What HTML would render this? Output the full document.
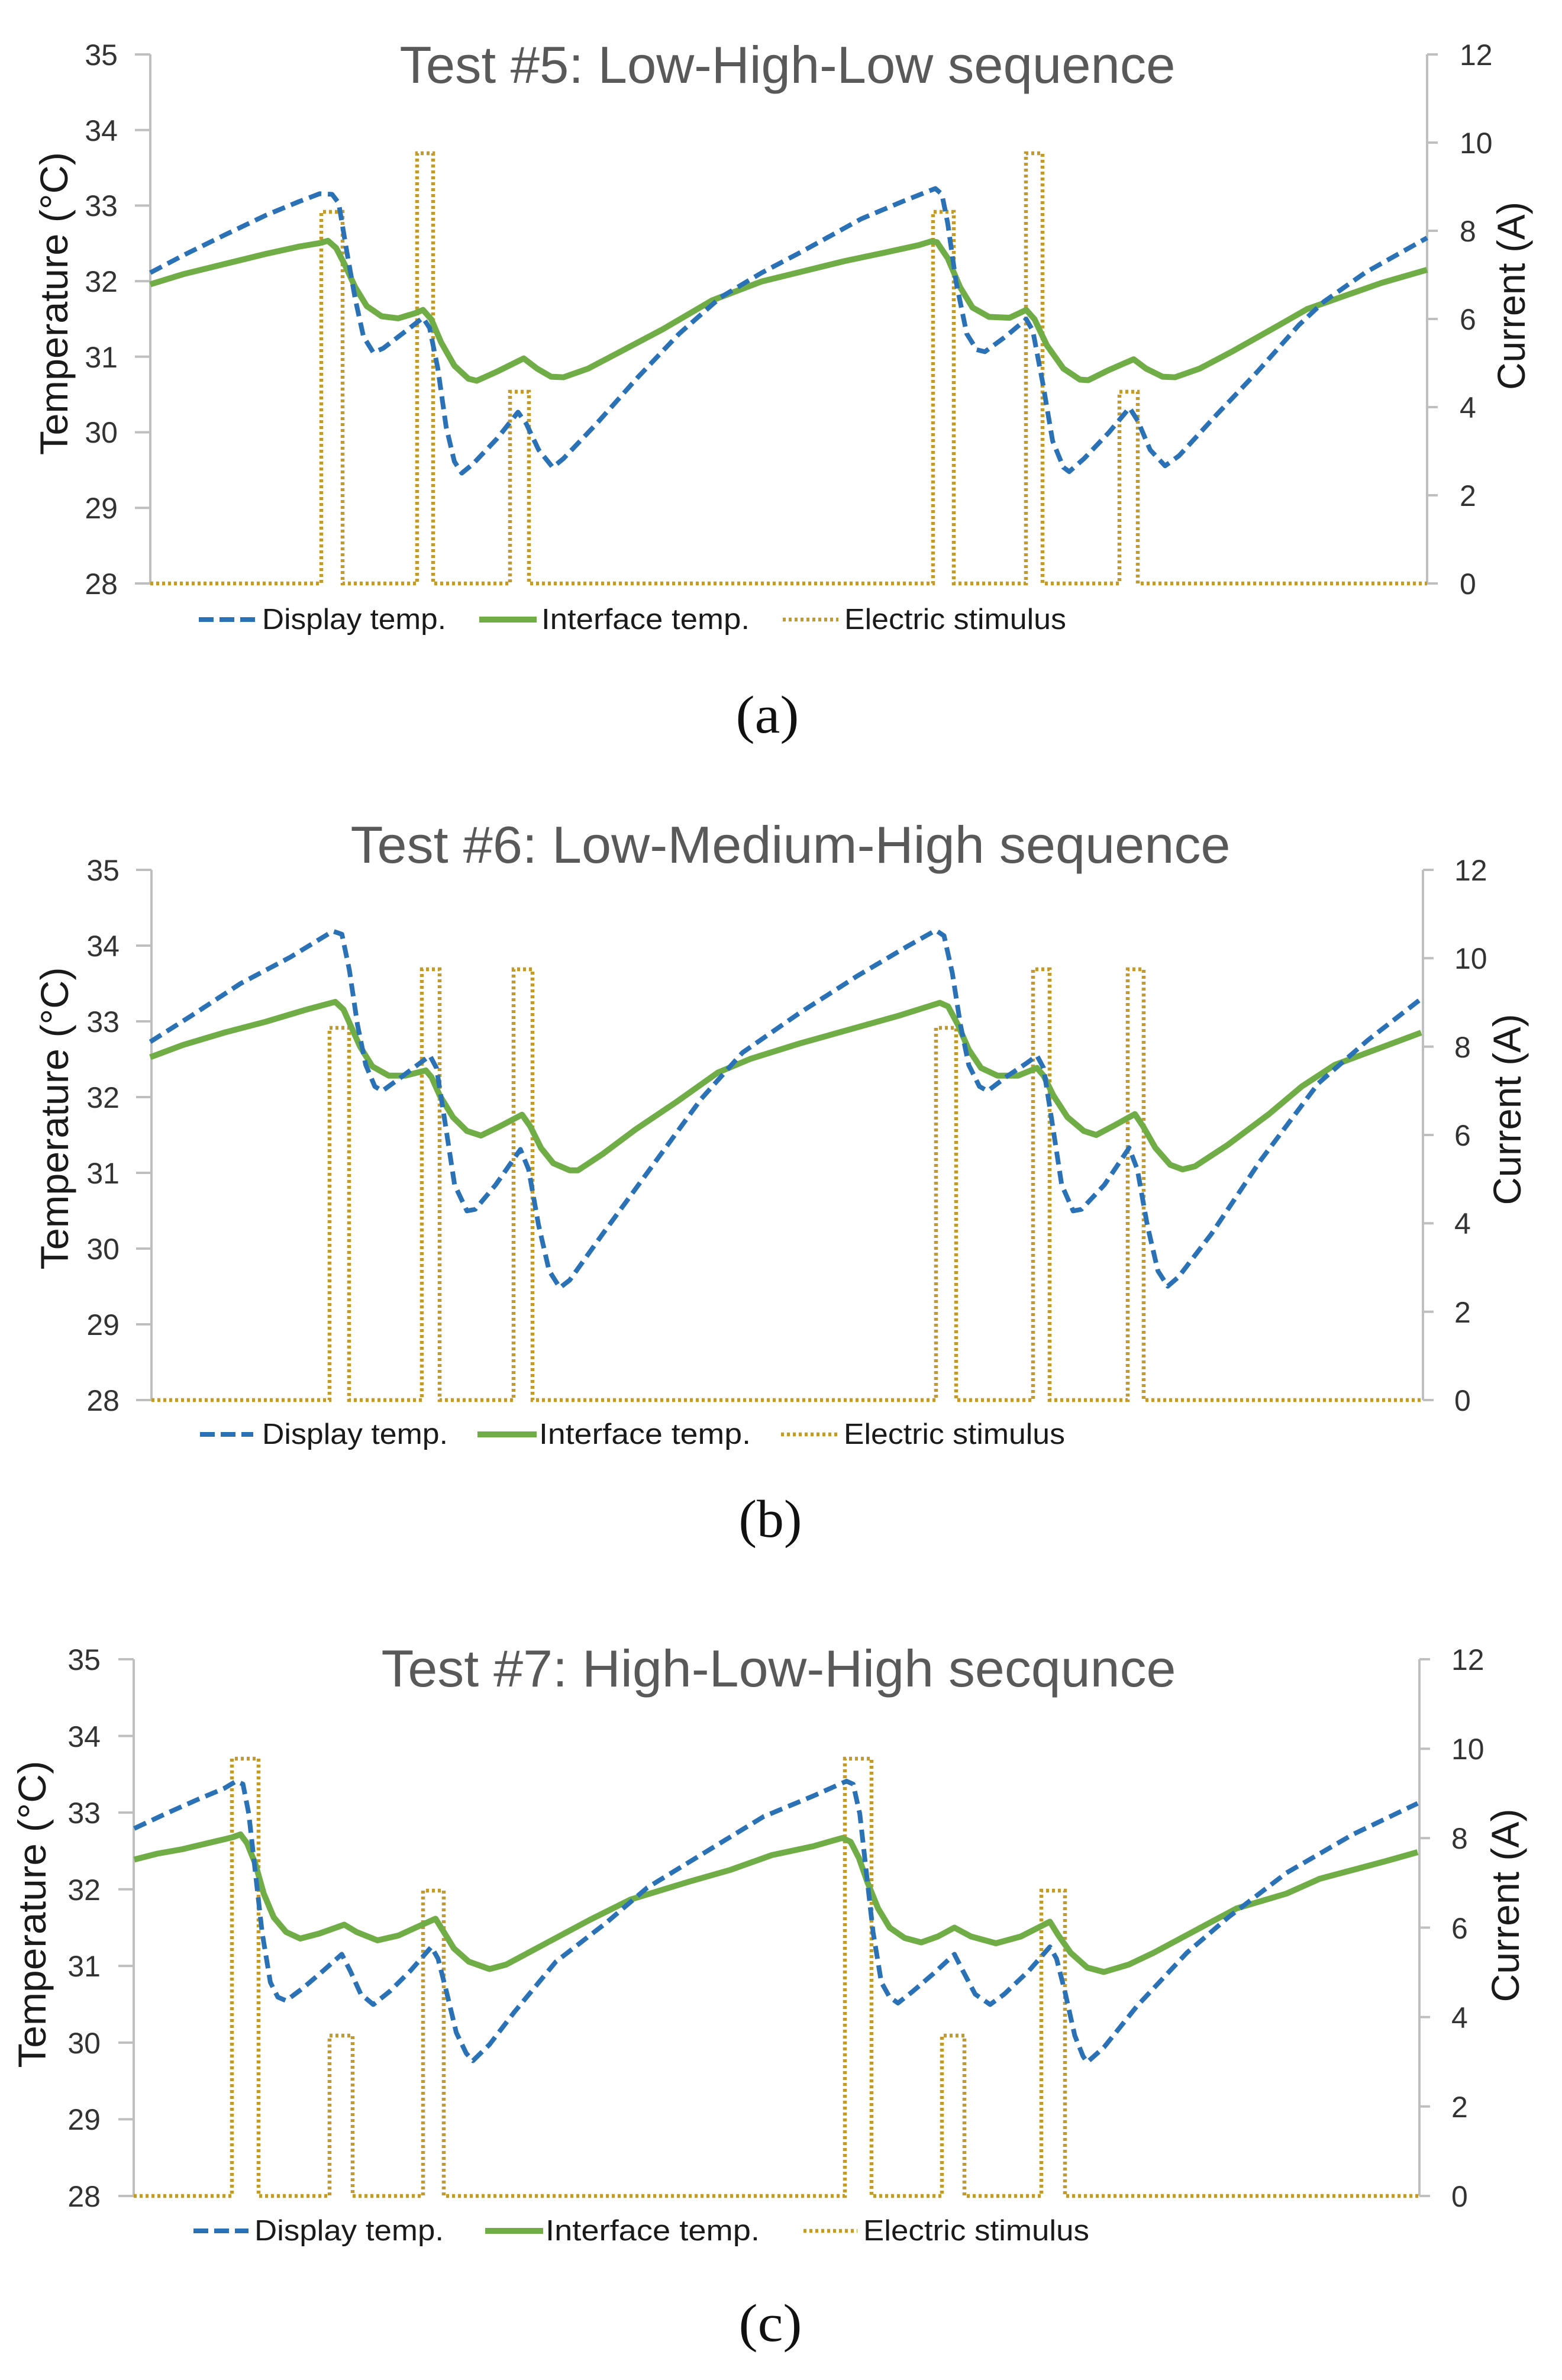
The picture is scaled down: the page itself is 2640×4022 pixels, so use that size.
<!DOCTYPE html>
<html>
<head>
<meta charset="utf-8">
<style>
  html,body{margin:0;padding:0;background:#fff;}
  svg{display:block;}
  text{font-family:"Liberation Sans",sans-serif;}
  .tick{font-size:50px;fill:#333;}
  .ttl{font-size:88px;fill:#595959;}
  .ax{font-size:66px;fill:#1a1a1a;}
  .leg{font-size:49px;fill:#1a1a1a;}
  .cap{font-family:"Liberation Serif",serif;font-size:90px;fill:#111;}
  .axis{stroke:#BFBFBF;stroke-width:4;fill:none;}
  .blue{fill:none;stroke:#2A72B5;stroke-width:8;stroke-dasharray:22 11;stroke-linejoin:round;vector-effect:non-scaling-stroke;}
  .green{fill:none;stroke:#70AD47;stroke-width:10;stroke-linejoin:round;vector-effect:non-scaling-stroke;}
  .stim{fill:none;stroke:#C39A2E;stroke-width:6.5;stroke-dasharray:5 5;}
</style>
</head>
<body>
<svg width="2640" height="4022" viewBox="0 0 2640 4022" xmlns="http://www.w3.org/2000/svg">
<rect width="2640" height="4022" fill="#fff"/>

<!-- ================= CHART A ================= -->
<text class="ttl" x="1331" y="140" text-anchor="middle" textLength="1311" lengthAdjust="spacingAndGlyphs">Test #5: Low-High-Low sequence</text>
<line class="axis" x1="254" y1="92" x2="254" y2="986"/>
<line class="axis" x1="2412" y1="92" x2="2412" y2="986"/>
<g class="axis">
<line x1="228" y1="92" x2="254" y2="92"/><line x1="228" y1="219.7" x2="254" y2="219.7"/><line x1="228" y1="347.4" x2="254" y2="347.4"/><line x1="228" y1="475.1" x2="254" y2="475.1"/><line x1="228" y1="602.8" x2="254" y2="602.8"/><line x1="228" y1="730.5" x2="254" y2="730.5"/><line x1="228" y1="858.2" x2="254" y2="858.2"/><line x1="228" y1="986" x2="254" y2="986"/>
<line x1="2412" y1="92" x2="2430" y2="92"/><line x1="2412" y1="241" x2="2430" y2="241"/><line x1="2412" y1="390" x2="2430" y2="390"/><line x1="2412" y1="539" x2="2430" y2="539"/><line x1="2412" y1="688" x2="2430" y2="688"/><line x1="2412" y1="837" x2="2430" y2="837"/><line x1="2412" y1="986" x2="2430" y2="986"/>
</g>
<g class="tick" text-anchor="end">
<text x="199" y="110">35</text><text x="199" y="238">34</text><text x="199" y="365">33</text><text x="199" y="493">32</text><text x="199" y="621">31</text><text x="199" y="748">30</text><text x="199" y="876">29</text><text x="199" y="1004">28</text>
</g>
<g class="tick" text-anchor="start">
<text x="2467" y="110">12</text><text x="2467" y="259">10</text><text x="2467" y="408">8</text><text x="2467" y="557">6</text><text x="2467" y="706">4</text><text x="2467" y="855">2</text><text x="2467" y="1004">0</text>
</g>
<text class="ax" transform="translate(114,513) rotate(-90)" text-anchor="middle" textLength="512" lengthAdjust="spacingAndGlyphs">Temperature (°C)</text>
<text class="ax" transform="translate(2577,500) rotate(-90)" text-anchor="middle" textLength="318" lengthAdjust="spacingAndGlyphs">Current (A)</text>
<path class="stim" d="M254,986 L543,986 L543,358 L579,358 L579,986 L705,986 L705,259 L732,259 L732,986 L862,986 L862,662 L894,662 L894,986 L1577,986 L1577,358 L1612,358 L1612,986 L1734,986 L1734,259 L1762,259 L1762,986 L1892,986 L1892,662 L1923,662 L1923,986 L2412,986"/>
<g transform="translate(240,230.2) scale(1.3967,0.4908)">
<path class="green" d="M10,510 L50,475 L100,440 L150,405 L190,380 L215,368 L225,360 L235,385 L245,440 L258,520 L272,585 L290,620 L310,627 L330,610 L340,598 L350,630 L362,710 L378,790 L395,835 L405,842 L430,810 L462,765 L478,800 L495,828 L510,830 L540,800 L580,740 L630,665 L690,565 L750,500 L800,465 L850,430 L900,400 L940,375 L955,362 L962,365 L975,420 L990,520 L1005,590 L1025,622 L1050,625 L1070,598 L1080,630 L1095,720 L1115,800 L1135,838 L1145,840 L1170,805 L1200,768 L1215,800 L1235,828 L1250,830 L1280,800 L1320,740 L1370,660 L1410,595 L1450,555 L1500,505 L1555,460"/>
<path class="blue" d="M10,470 L50,410 L100,340 L150,272 L190,225 L215,198 L230,200 L238,230 L248,400 L258,560 L268,690 L280,745 L292,730 L315,680 L340,625 L348,660 L358,800 L368,1000 L378,1120 L387,1160 L400,1130 L430,1040 L455,950 L465,990 L480,1080 L497,1140 L510,1110 L550,990 L600,830 L650,680 L700,555 L750,470 L800,395 L870,285 L920,225 L960,180 L968,200 L975,300 L985,500 L998,680 L1010,735 L1020,742 L1045,690 L1070,630 L1078,670 L1090,850 L1102,1050 L1115,1140 L1122,1155 L1140,1110 L1170,1020 L1195,935 L1205,980 L1220,1080 L1238,1135 L1255,1100 L1300,960 L1350,810 L1400,650 L1430,570 L1480,470 L1530,390 L1555,350"/>
</g>
<line class="blue" x1="336" y1="1047" x2="433" y2="1047" style="stroke-dasharray:25 10"/>
<text class="leg" x="443" y="1063" textLength="311" lengthAdjust="spacingAndGlyphs">Display temp.</text>
<line class="green" x1="810" y1="1047" x2="907" y2="1047"/>
<text class="leg" x="915" y="1063" textLength="352" lengthAdjust="spacingAndGlyphs">Interface temp.</text>
<line class="stim" x1="1323" y1="1047" x2="1417" y2="1047"/>
<text class="leg" x="1427" y="1063" textLength="375" lengthAdjust="spacingAndGlyphs">Electric stimulus</text>
<text class="cap" x="1297" y="1238" text-anchor="middle" textLength="107" lengthAdjust="spacingAndGlyphs">(a)</text>

<!-- ================= CHART B ================= -->
<text class="ttl" x="1336" y="1458" text-anchor="middle" textLength="1487" lengthAdjust="spacingAndGlyphs">Test #6: Low-Medium-High sequence</text>
<line class="axis" x1="256" y1="1470" x2="256" y2="2366"/>
<line class="axis" x1="2405" y1="1470" x2="2405" y2="2366"/>
<g class="axis">
<line x1="230" y1="1470" x2="256" y2="1470"/><line x1="230" y1="1598" x2="256" y2="1598"/><line x1="230" y1="1726" x2="256" y2="1726"/><line x1="230" y1="1854" x2="256" y2="1854"/><line x1="230" y1="1982" x2="256" y2="1982"/><line x1="230" y1="2110" x2="256" y2="2110"/><line x1="230" y1="2238" x2="256" y2="2238"/><line x1="230" y1="2366" x2="256" y2="2366"/>
<line x1="2405" y1="1470" x2="2423" y2="1470"/><line x1="2405" y1="1619.3" x2="2423" y2="1619.3"/><line x1="2405" y1="1768.7" x2="2423" y2="1768.7"/><line x1="2405" y1="1918" x2="2423" y2="1918"/><line x1="2405" y1="2067.3" x2="2423" y2="2067.3"/><line x1="2405" y1="2216.7" x2="2423" y2="2216.7"/><line x1="2405" y1="2366" x2="2423" y2="2366"/>
</g>
<g class="tick" text-anchor="end">
<text x="202" y="1488">35</text><text x="202" y="1616">34</text><text x="202" y="1744">33</text><text x="202" y="1872">32</text><text x="202" y="2000">31</text><text x="202" y="2128">30</text><text x="202" y="2256">29</text><text x="202" y="2384">28</text>
</g>
<g class="tick" text-anchor="start">
<text x="2458" y="1488">12</text><text x="2458" y="1637">10</text><text x="2458" y="1787">8</text><text x="2458" y="1936">6</text><text x="2458" y="2085">4</text><text x="2458" y="2235">2</text><text x="2458" y="2384">0</text>
</g>
<text class="ax" transform="translate(115,1890) rotate(-90)" text-anchor="middle" textLength="511" lengthAdjust="spacingAndGlyphs">Temperature (°C)</text>
<text class="ax" transform="translate(2570,1875) rotate(-90)" text-anchor="middle" textLength="323" lengthAdjust="spacingAndGlyphs">Current (A)</text>
<path class="stim" d="M256,2366 L557,2366 L557,1737 L590,1737 L590,2366 L713,2366 L713,1638 L743,1638 L743,2366 L868,2366 L868,1638 L900,1638 L900,2366 L1582,2366 L1582,1737 L1616,1737 L1616,2366 L1746,2366 L1746,1638 L1774,1638 L1774,2366 L1906,2366 L1906,1638 L1933,1638 L1933,2366 L2405,2366"/>
<g transform="translate(240,1560.6) scale(1.3903,0.5195)">
<path class="green" d="M10,435 L50,395 L100,355 L150,320 L200,280 L235,255 L245,280 L255,340 L265,400 L280,465 L300,495 L320,495 L345,478 L352,500 L362,560 L378,630 L395,675 L412,690 L435,660 L462,622 L472,660 L485,730 L500,780 L520,803 L530,803 L560,750 L600,670 L650,580 L700,485 L740,440 L800,390 L860,345 L920,300 L970,258 L980,270 L992,330 L1005,410 L1020,470 L1040,495 L1065,495 L1088,470 L1096,495 L1108,560 L1125,630 L1145,675 L1160,688 L1180,660 L1207,620 L1217,660 L1232,730 L1250,785 L1265,800 L1280,790 L1320,720 L1370,620 L1410,530 L1450,460 L1500,410 L1555,355"/>
<path class="blue" d="M10,385 L60,300 L120,195 L180,110 L232,25 L243,35 L252,150 L262,330 L272,460 L283,530 L292,545 L310,510 L335,460 L350,430 L358,470 L368,640 L380,850 L395,935 L405,930 L430,850 L460,735 L470,800 L482,980 L495,1130 L508,1185 L520,1160 L560,1010 L620,790 L680,570 L730,420 L800,290 L870,170 L930,75 L965,22 L975,40 L985,160 L995,330 L1005,460 L1018,530 L1028,545 L1050,500 L1075,455 L1088,430 L1096,470 L1106,640 L1118,850 L1132,935 L1142,930 L1170,850 L1200,730 L1210,800 L1222,980 L1235,1130 L1247,1180 L1260,1150 L1300,1010 L1360,770 L1430,520 L1490,380 L1555,245"/>
</g>
<line class="blue" x1="338" y1="2424" x2="428" y2="2424" style="stroke-dasharray:25 10"/>
<text class="leg" x="443" y="2440" textLength="314" lengthAdjust="spacingAndGlyphs">Display temp.</text>
<line class="green" x1="807" y1="2424" x2="907" y2="2424"/>
<text class="leg" x="911" y="2440" textLength="358" lengthAdjust="spacingAndGlyphs">Interface temp.</text>
<line class="stim" x1="1320" y1="2424" x2="1418" y2="2424"/>
<text class="leg" x="1426" y="2440" textLength="374" lengthAdjust="spacingAndGlyphs">Electric stimulus</text>
<text class="cap" x="1302" y="2597" text-anchor="middle" textLength="107" lengthAdjust="spacingAndGlyphs">(b)</text>

<!-- ================= CHART C ================= -->
<text class="ttl" x="1316" y="2850" text-anchor="middle" textLength="1343" lengthAdjust="spacingAndGlyphs">Test #7: High-Low-High secqunce</text>
<line class="axis" x1="226" y1="2804" x2="226" y2="3711"/>
<line class="axis" x1="2399" y1="2804" x2="2399" y2="3711"/>
<g class="axis">
<line x1="200" y1="2804" x2="226" y2="2804"/><line x1="200" y1="2933.6" x2="226" y2="2933.6"/><line x1="200" y1="3063.1" x2="226" y2="3063.1"/><line x1="200" y1="3192.7" x2="226" y2="3192.7"/><line x1="200" y1="3322.3" x2="226" y2="3322.3"/><line x1="200" y1="3451.9" x2="226" y2="3451.9"/><line x1="200" y1="3581.4" x2="226" y2="3581.4"/><line x1="200" y1="3711" x2="226" y2="3711"/>
<line x1="2399" y1="2804" x2="2417" y2="2804"/><line x1="2399" y1="2955.2" x2="2417" y2="2955.2"/><line x1="2399" y1="3106.3" x2="2417" y2="3106.3"/><line x1="2399" y1="3257.5" x2="2417" y2="3257.5"/><line x1="2399" y1="3408.7" x2="2417" y2="3408.7"/><line x1="2399" y1="3559.8" x2="2417" y2="3559.8"/><line x1="2399" y1="3711" x2="2417" y2="3711"/>
</g>
<g class="tick" text-anchor="end">
<text x="170" y="2822">35</text><text x="170" y="2952">34</text><text x="170" y="3081">33</text><text x="170" y="3211">32</text><text x="170" y="3340">31</text><text x="170" y="3470">30</text><text x="170" y="3599">29</text><text x="170" y="3729">28</text>
</g>
<g class="tick" text-anchor="start">
<text x="2453" y="2822">12</text><text x="2453" y="2973">10</text><text x="2453" y="3124">8</text><text x="2453" y="3276">6</text><text x="2453" y="3427">4</text><text x="2453" y="3578">2</text><text x="2453" y="3729">0</text>
</g>
<text class="ax" transform="translate(77,3235) rotate(-90)" text-anchor="middle" textLength="519" lengthAdjust="spacingAndGlyphs">Temperature (°C)</text>
<text class="ax" transform="translate(2567,3220) rotate(-90)" text-anchor="middle" textLength="327" lengthAdjust="spacingAndGlyphs">Current (A)</text>
<path class="stim" d="M226,3711 L392,3711 L392,2972 L437,2972 L437,3711 L557,3711 L557,3440 L596,3440 L596,3711 L715,3711 L715,3195 L750,3195 L750,3711 L1428,3711 L1428,2972 L1473,2972 L1473,3711 L1592,3711 L1592,3440 L1630,3440 L1630,3711 L1760,3711 L1760,3195 L1800,3195 L1800,3711 L2399,3711"/>
<g transform="translate(210,2940) scale(1.4031,0.5)">
<path class="green" d="M12,405 L40,385 L70,370 L100,350 L130,330 L140,320 L148,350 L158,420 L168,520 L180,600 L195,650 L212,672 L235,655 L265,625 L280,650 L305,678 L330,662 L355,630 L375,605 L385,650 L397,705 L415,750 L440,775 L460,760 L500,700 L560,610 L610,540 L680,480 L730,440 L780,390 L830,360 L865,332 L875,345 L885,400 L895,480 L908,570 L922,635 L940,670 L960,685 L980,665 L1000,635 L1020,665 L1050,688 L1080,665 L1115,615 L1125,660 L1140,720 L1160,770 L1180,785 L1210,760 L1240,720 L1300,630 L1340,570 L1400,520 L1440,470 L1480,440 L1520,410 L1558,380"/>
<path class="blue" d="M12,300 L50,250 L90,200 L120,165 L135,140 L143,150 L150,250 L158,450 L166,650 L176,820 L185,870 L195,882 L215,840 L240,780 L262,725 L272,780 L285,860 L300,895 L320,850 L345,780 L370,700 L378,740 L388,850 L400,990 L412,1060 L420,1085 L440,1030 L470,920 L520,750 L580,620 L630,500 L700,380 L770,260 L830,190 L870,140 L878,150 L886,250 L894,450 L902,650 L912,820 L922,870 L932,890 L950,850 L975,790 L1000,725 L1010,780 L1025,860 L1043,895 L1060,860 L1090,780 L1115,700 L1123,740 L1133,850 L1145,1000 L1155,1070 L1160,1090 L1180,1040 L1220,900 L1280,720 L1330,600 L1400,450 L1480,320 L1558,215"/>
</g>
<line class="blue" x1="327" y1="3770" x2="420" y2="3770" style="stroke-dasharray:25 10"/>
<text class="leg" x="430" y="3786" textLength="320" lengthAdjust="spacingAndGlyphs">Display temp.</text>
<line class="green" x1="820" y1="3770" x2="918" y2="3770"/>
<text class="leg" x="922" y="3786" textLength="362" lengthAdjust="spacingAndGlyphs">Interface temp.</text>
<line class="stim" x1="1358" y1="3770" x2="1449" y2="3770"/>
<text class="leg" x="1459" y="3786" textLength="382" lengthAdjust="spacingAndGlyphs">Electric stimulus</text>
<text class="cap" x="1302" y="3956" text-anchor="middle" textLength="107" lengthAdjust="spacingAndGlyphs">(c)</text>
</svg>
</body>
</html>
